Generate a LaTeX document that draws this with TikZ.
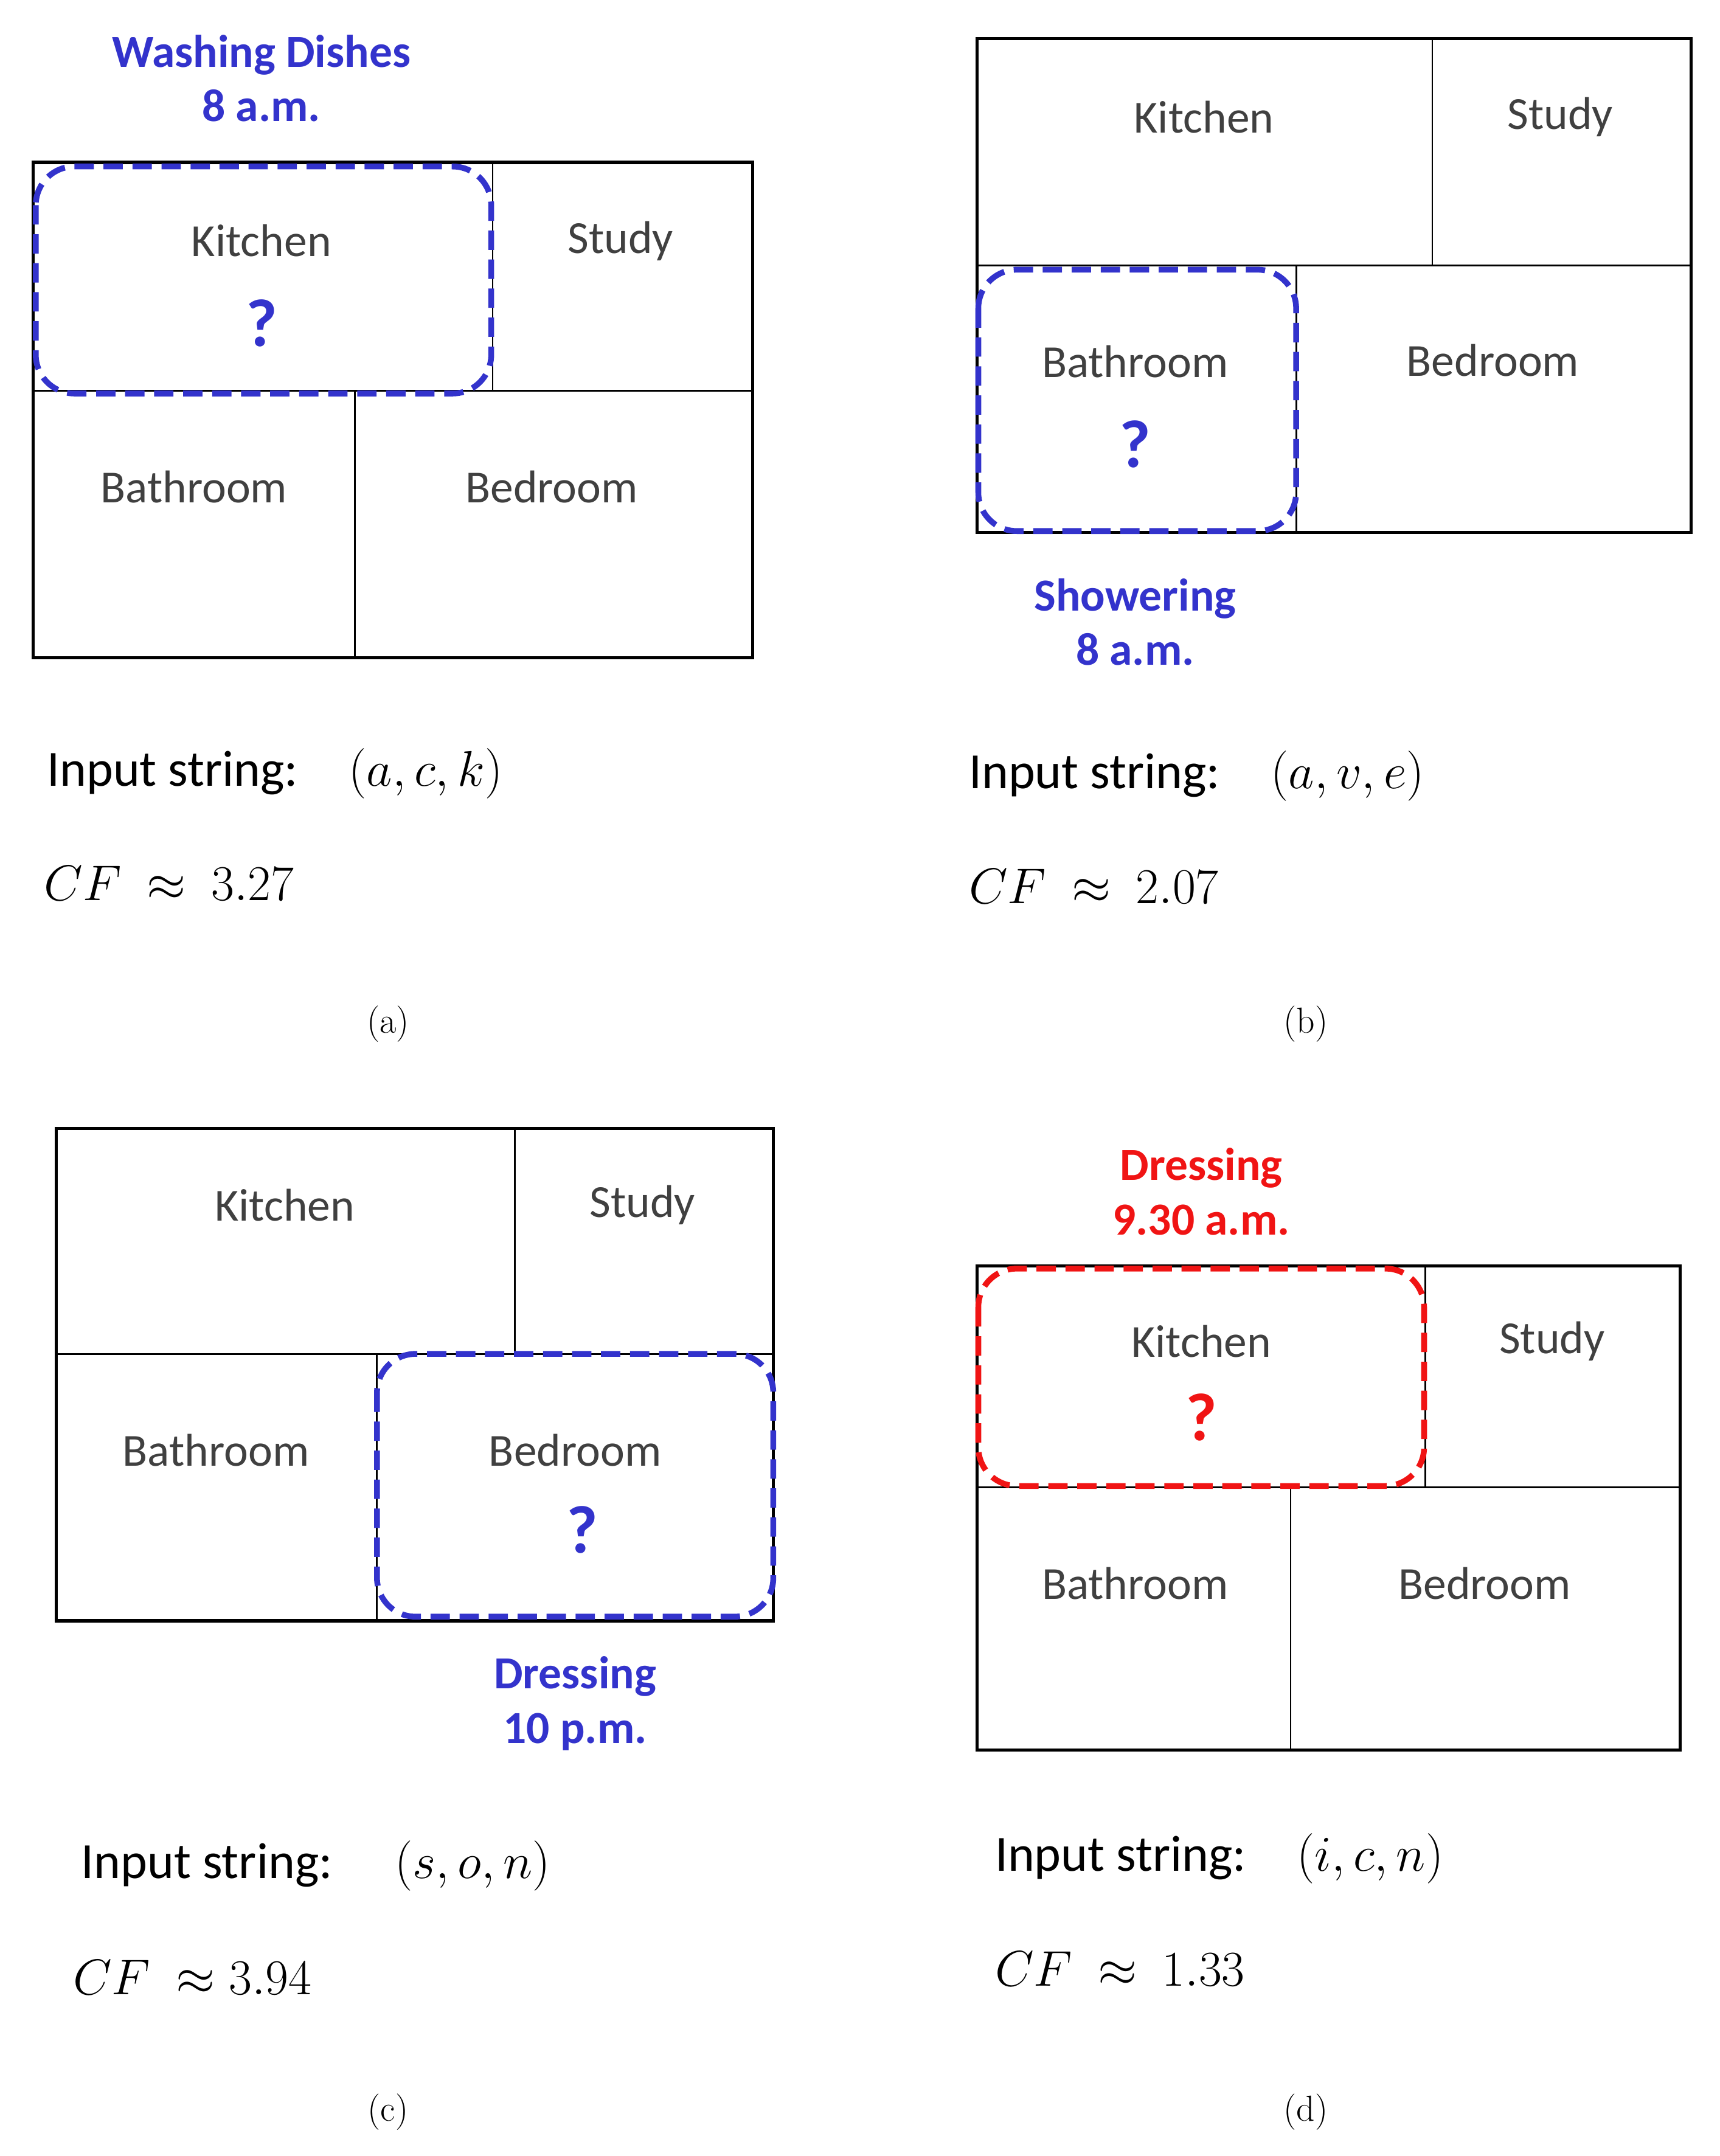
\documentclass[tikz,border=0pt]{standalone}
\usepackage{fontspec}
\setmainfont{Carlito}
\newfontfamily\capfont{Latin Modern Roman}
\begin{document}
\definecolor{qblue}{RGB}{51,51,204}
\definecolor{qred}{RGB}{240,20,20}
\definecolor{room}{RGB}{64,64,64}
\begin{tikzpicture}[x=0.02cm,y=-0.02cm,
  frame/.style={line width=1.3pt},
  wall/.style={line width=0.7pt},
  sel/.style={line width=2.4pt,dash pattern=on 8pt off 4pt,rounded corners=16pt},
  rm/.style={text=room,font=\fontsize{19}{21}\selectfont},
  q/.style={font=\bfseries\fontsize{28}{30}\selectfont},
  ttl/.style={font=\bfseries\fontsize{19}{22.5}\selectfont,align=center},
  inp/.style={anchor=west,font=\fontsize{21}{25}\selectfont},
  sublbl/.style={font=\capfont\fontsize{15}{17}\selectfont}]
\useasboundingbox (0,0) rectangle (1250,1567);
% panel a
\draw[frame] (24,118) rectangle (547,478);
\draw[wall] (358,118)--(358,284) (24,284)--(547,284) (258,284)--(258,478);
\draw[sel,qblue] (26,121) rectangle (357,286);
\node[rm] (ak) at (190,175) {Kitchen};
\node[q,text=qblue] (aq) at (190,235) {?};
\node[rm] (as) at (451,175) {Study};
\node[rm] (aba) at (141,354) {Bathroom};
\node[rm] (abe) at (401,354) {Bedroom};
\node[ttl,text=qblue] (at) at (190,57) {Washing Dishes\\8 a.m.};
\node[inp] (ai) at (28,562) {Input string:\quad$(a,c,k)$};
\node[inp] (acf) at (26,642) {$CF\ \approx\ 3.27$};
\node[sublbl] (al) at (282,744) {(a)};
% panel b
\draw[frame] (710,28) rectangle (1229,387);
\draw[wall] (1041,28)--(1041,193) (710,193)--(1229,193) (942,193)--(942,387);
\draw[sel,qblue] (711,196) rectangle (942,386);
\node[rm] (bk) at (875,85) {Kitchen};
\node[rm] (bs) at (1134,85) {Study};
\node[rm] (bba) at (825,263) {Bathroom};
\node[q,text=qblue] (bq) at (825,323) {?};
\node[rm] (bbe) at (1085,262) {Bedroom};
\node[ttl,text=qblue] (bt) at (825,452) {Showering\\8 a.m.};
\node[inp] (bi) at (698,564) {Input string:\quad$(a,v,e)$};
\node[inp] (bcf) at (698,644) {$CF\ \approx\ 2.07$};
\node[sublbl] (bl) at (949,744) {(b)};
% panel c
\draw[frame] (41,820) rectangle (562,1178);
\draw[wall] (374,820)--(374,984) (41,984)--(562,984) (274,984)--(274,1178);
\draw[sel,qblue] (274,984) rectangle (562,1175);
\node[rm] (ck) at (207,876) {Kitchen};
\node[rm] (cs) at (467,876) {Study};
\node[rm] (cba) at (157,1054) {Bathroom};
\node[rm] (cbe) at (418,1054) {Bedroom};
\node[q,text=qblue] (cq) at (423,1112) {?};
\node[ttl,text=qblue] (ct) at (418,1238) {Dressing\\10 p.m.};
\node[inp] (ci) at (53,1356) {Input string:\quad\ $(s,o,n)$};
\node[inp] (ccf) at (47,1437) {$CF\ \approx 3.94$};
\node[sublbl] (cl) at (282,1535) {(c)};
% panel d
\draw[frame] (710,920) rectangle (1221,1272);
\draw[wall] (1036,920)--(1036,1081) (710,1081)--(1221,1081) (938,1081)--(938,1272);
\draw[sel,qred] (711,922) rectangle (1035,1080);
\node[rm] (dk) at (873,975) {Kitchen};
\node[q,text=qred] (dq) at (873,1030) {?};
\node[rm] (ds) at (1128,975) {Study};
\node[rm] (dba) at (825,1151) {Bathroom};
\node[rm] (dbe) at (1079,1151) {Bedroom};
\node[ttl,text=qred] (dt) at (873,866) {Dressing\\9.30 a.m.};
\node[inp] (di) at (717,1351) {Input string:\quad$(i,c,n)$};
\node[inp] (dcf) at (717,1431) {$CF\ \approx\ 1.33$};
\node[sublbl] (dl) at (949,1535) {(d)};
\end{tikzpicture}
\end{document}
